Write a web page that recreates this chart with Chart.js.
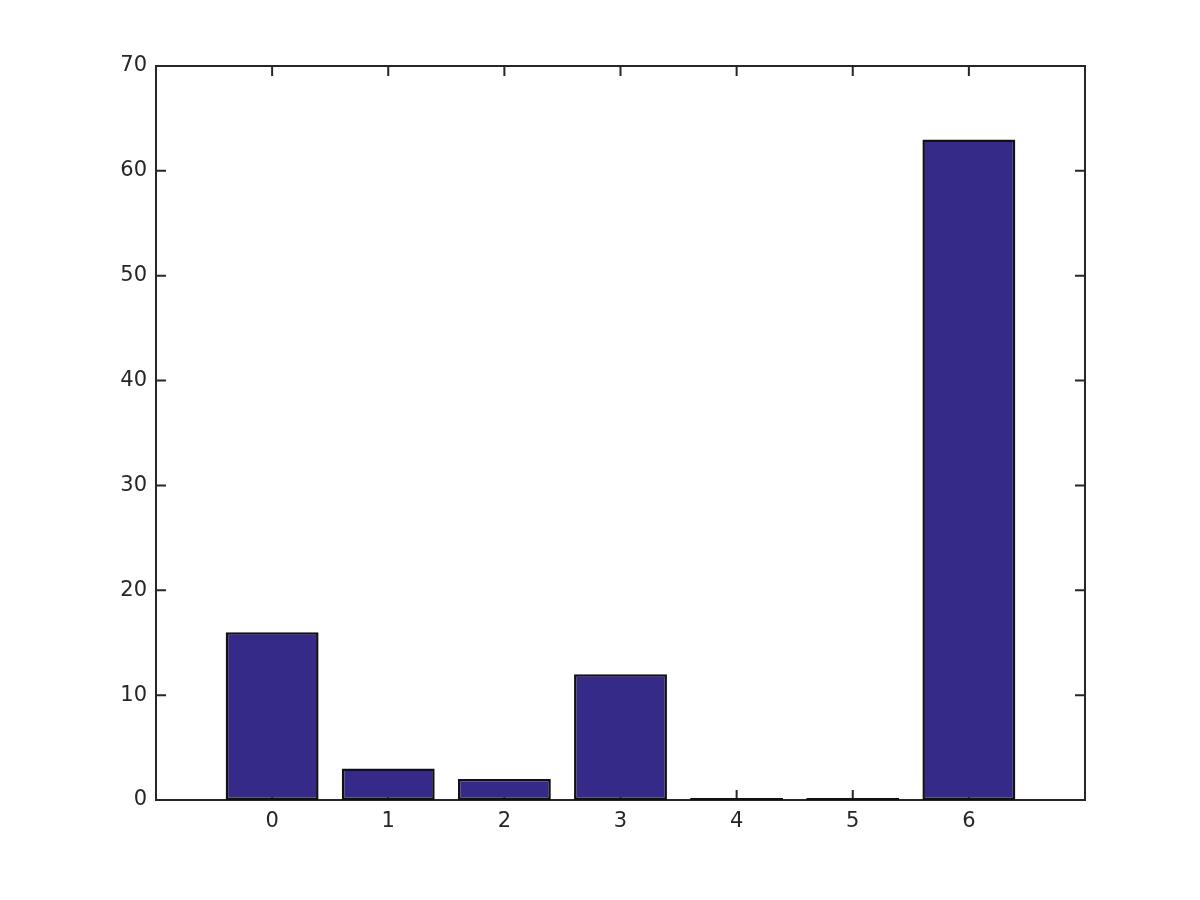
<!DOCTYPE html>
<html>
<head>
<meta charset="utf-8">
<script src="https://cdn.jsdelivr.net/npm/chart.js@4"></script>
<style>
  html, body { margin: 0; padding: 0; background: #fff; }
  #wrap { width: 1200px; height: 900px; }
</style>
</head>
<body>
<div id="wrap"><canvas id="myChart" width="1200" height="900"></canvas></div>
<script>
// data
const categories = [0, 1, 2, 3, 4, 5, 6];
const counts = [16, 3, 2, 12, 0, 0, 63];
const yTicks = [0, 10, 20, 30, 40, 50, 60, 70];

const axisColor = '#262626';
const barColor = '#352a87';

// MATLAB style box with ticks pointing inward, drawn under the bars
const boxTicks = {
  id: 'boxTicks',
  beforeDatasetsDraw(chart) {
    const { ctx, chartArea: a, scales } = chart;
    const len = 10;
    ctx.save();
    ctx.strokeStyle = axisColor;
    ctx.lineWidth = 2;
    ctx.beginPath();
    categories.forEach(c => {
      const x = scales.x.getPixelForValue(c);
      ctx.moveTo(x, a.bottom); ctx.lineTo(x, a.bottom - len);
      ctx.moveTo(x, a.top); ctx.lineTo(x, a.top + len);
    });
    yTicks.forEach(v => {
      const y = scales.y.getPixelForValue(v);
      ctx.moveTo(a.left, y); ctx.lineTo(a.left + len, y);
      ctx.moveTo(a.right, y); ctx.lineTo(a.right - len, y);
    });
    ctx.stroke();
    ctx.strokeRect(a.left, a.top, a.right - a.left, a.bottom - a.top);
    ctx.restore();
  }
};

const ctx = document.getElementById('myChart').getContext('2d');
new Chart(ctx, {
  type: 'bar',
  data: {
    datasets: [{
      data: categories.map((c, i) => ({ x: c, y: counts[i] })),
      backgroundColor: barColor,
      borderColor: '#111111',
      borderWidth: 2.5,
      borderSkipped: false,
      minBarLength: 2,
      barPercentage: 0.8,
      categoryPercentage: 1.0
    }]
  },
  options: {
    responsive: false,
    animation: false,
    layout: { padding: { top: 66, right: 115, left: 0, bottom: 0 } },
    plugins: { legend: { display: false }, tooltip: { enabled: false } },
    scales: {
      x: {
        type: 'linear',
        offset: false,
        min: -1,
        max: 7,
        grid: { display: false, drawTicks: false },
        border: { display: false },
        afterFit(s) { s.height = 100; },
        afterBuildTicks(s) { s.ticks = categories.map(v => ({ value: v })); },
        ticks: {
          color: axisColor,
          padding: 9,
          font: { family: 'DejaVu Sans', size: 21 },
          maxRotation: 0
        }
      },
      y: {
        min: 0,
        max: 70,
        grid: { display: false, drawTicks: false },
        border: { display: false },
        afterFit(s) { s.width = 156; },
        afterBuildTicks(s) { s.ticks = yTicks.map(v => ({ value: v })); },
        ticks: {
          color: axisColor,
          padding: 9,
          font: { family: 'DejaVu Sans', size: 21 }
        }
      }
    }
  },
  plugins: [boxTicks]
});
</script>
</body>
</html>
